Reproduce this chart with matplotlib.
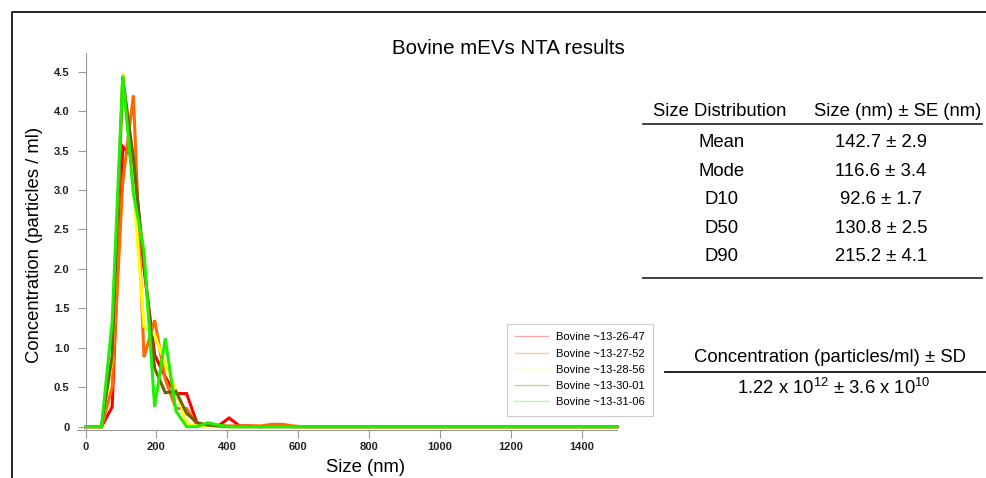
import numpy as np
import matplotlib
matplotlib.use('Agg')
import matplotlib.pyplot as plt
from matplotlib.lines import Line2D

plt.rcParams['font.family'] = ['Liberation Sans', 'DejaVu Sans']
plt.rcParams['mathtext.default'] = 'regular'

size_nm = np.array([0] + list(range(15, 1500, 30)) + [1500])

red_vals = [0, 0, 0, 0.25, 3.55, 3.40, 2.00, 0.91, 0.63, 0.42, 0.42,
            0.04, 0.02, 0.01, 0.11, 0.01, 0.01, 0.0, 0.01, 0.01, 0.0]
orange_vals = [0, 0, 0, 0.50, 3.10, 4.20, 0.88, 1.35, 0.60, 0.23, 0.23,
               0.02, 0.01, 0.01, 0.01, 0.01, 0.01, 0.01, 0.03, 0.03, 0.01]
yellow_vals = [0, 0, 0, 0.85, 4.48, 3.05, 1.27, 1.16, 0.80, 0.46, 0.04,
               0.01, 0, 0, 0, 0, 0, 0, 0, 0, 0]
olive_vals = [0, 0, 0, 0.90, 4.42, 3.40, 2.07, 0.74, 0.43, 0.45, 0.17,
              0.05, 0.02, 0.01, 0, 0, 0, 0, 0, 0, 0]
green_vals = [0, 0, 0, 1.33, 4.45, 2.96, 2.22, 0.25, 1.12, 0.20, 0,
              0, 0.05, 0.02, 0, 0, 0, 0, 0, 0, 0]

series_names = ['Bovine ~13-26-47', 'Bovine ~13-27-52', 'Bovine ~13-28-56',
                'Bovine ~13-30-01', 'Bovine ~13-31-06']
series_colors = ['#ff0000', '#ff6a00', '#ffff00', '#6b6200', '#22ee00']

table_rows = ['Mean', 'Mode', 'D10', 'D50', 'D90']
table_vals = ['142.7 ± 2.9', '116.6 ± 3.4', '92.6 ± 1.7', '130.8 ± 2.5', '215.2 ± 4.1']

W, H = 987, 478


def fx(px):
    return px / W


def fy(py):
    return 1 - py / H


def pad(vals):
    return np.array(vals + [0] * (len(size_nm) - len(vals)))


fig = plt.figure(figsize=(W / 100, H / 100), dpi=100)
ax = fig.add_axes([fx(76.7), fy(430), fx(617) - fx(76.7), fy(53) - fy(430)])

all_vals = [red_vals, orange_vals, yellow_vals, olive_vals, green_vals]
for vals, c, name in zip(all_vals, series_colors, series_names):
    ax.plot(size_nm, pad(vals), color=c, lw=2.2, label=name,
            solid_joinstyle='miter', clip_on=False)

ax.set_xlim(-25, 1500)
ax.set_ylim(-0.042, 4.736)
ax.set_xticks(range(0, 1401, 200))
ax.set_yticks(np.arange(0, 4.6, 0.5))
ax.set_yticklabels(['0', '0.5', '1.0', '1.5', '2.0', '2.5', '3.0', '3.5', '4.0', '4.5'])

for s in ['top', 'right']:
    ax.spines[s].set_visible(False)
ax.spines['left'].set_position(('data', 0))
for s in ['left', 'bottom']:
    ax.spines[s].set_color('#999999')
    ax.spines[s].set_linewidth(0.8)
ax.tick_params(axis='both', colors='#999999', width=0.8, length=6,
               labelsize=8, labelcolor='#222222')
ax.tick_params(axis='y', pad=5.5)
ax.tick_params(axis='x', pad=3)
for lab in ax.get_xticklabels() + ax.get_yticklabels():
    lab.set_fontweight('bold')

# legend with pale handles
handles = [Line2D([], [], color=c, lw=1.0, alpha=0.35) for c in series_colors]
leg = fig.legend(handles, series_names, loc='upper left',
                 bbox_to_anchor=(fx(506.7), fy(324)), fontsize=8,
                 frameon=True, fancybox=False, edgecolor='#cccccc',
                 framealpha=1, handlelength=3.0, handletextpad=0.7,
                 labelspacing=0.56, borderpad=0.75, borderaxespad=0)
leg.get_frame().set_linewidth(0.8)

fig.text(fx(508), fy(48), 'Bovine mEVs NTA results', fontsize=14.8,
         ha='center', va='center')
fig.text(fx(366), fy(467), 'Size (nm)', fontsize=13.3, ha='center', va='center')
fig.text(fx(35), fy(245), 'Concentration (particles / ml)', fontsize=13.3,
         ha='center', va='center', rotation=90)

# size table
fig.text(fx(720), fy(111.5), 'Size Distribution', fontsize=13.3, ha='center', va='center')
fig.text(fx(898), fy(111.5), 'Size (nm) ± SE (nm)', fontsize=13.3, ha='center', va='center')
row_y = [142.7, 171.7, 200, 228.3, 256.7]
for name, val, py in zip(table_rows, table_vals, row_y):
    fig.text(fx(722), fy(py), name, fontsize=13.3, ha='center', va='center')
    fig.text(fx(881), fy(py), val, fontsize=13.3, ha='center', va='center')
fig.add_artist(Line2D([fx(642.7), fx(981.7)], [fy(124.3)] * 2, color='#333333', lw=1.3))
fig.add_artist(Line2D([fx(642.7), fx(981.7)], [fy(278.3)] * 2, color='#333333', lw=1.3))

# concentration
fig.text(fx(830), fy(358), 'Concentration (particles/ml) ± SD', fontsize=13.3,
         ha='center', va='center')
fig.add_artist(Line2D([fx(665), fx(987)], [fy(371.7)] * 2, color='#111111', lw=1.3))
fig.text(fx(834), fy(388), r'1.22 x 10$^{12}$ ± 3.6 x 10$^{10}$', fontsize=13.3,
         ha='center', va='center')

# outer frame (top and left edges)
fig.add_artist(Line2D([fx(12), fx(12), fx(987)], [fy(478), fy(12), fy(12)],
                      color='black', lw=1.2))

fig.savefig('out.png', dpi=100)
